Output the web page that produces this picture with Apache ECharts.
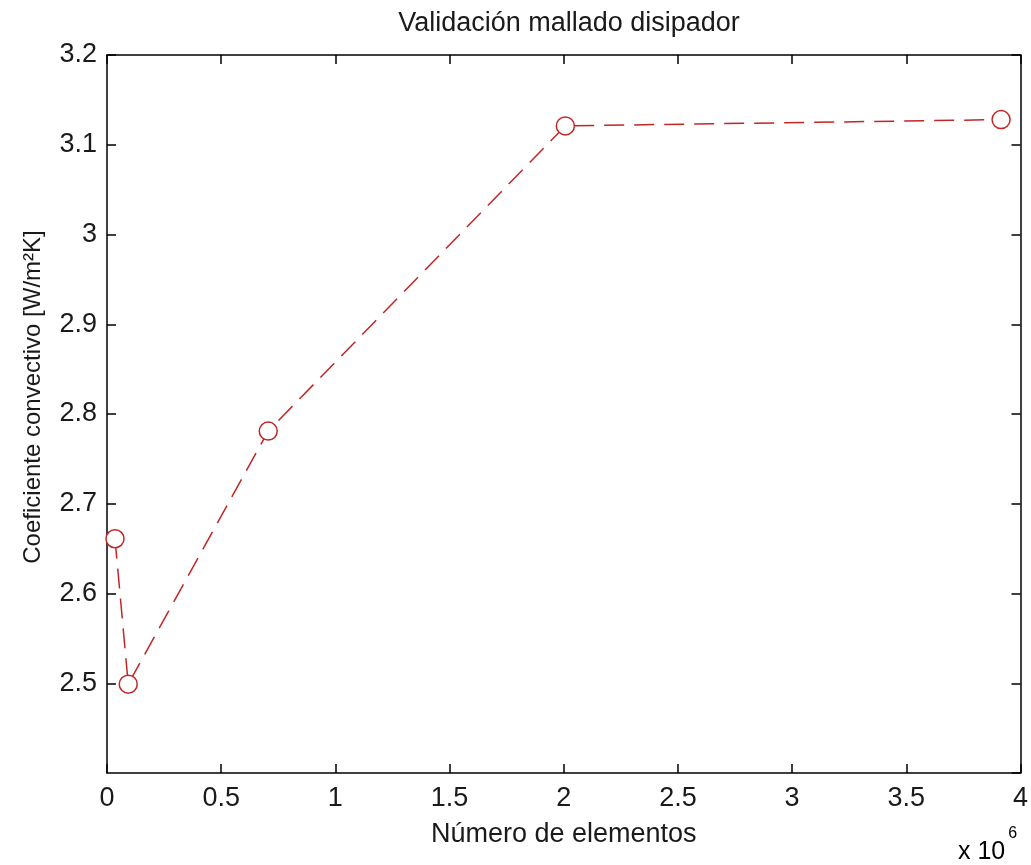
<!DOCTYPE html>
<html>
<head>
<meta charset="utf-8">
<script src="https://cdn.jsdelivr.net/npm/echarts@6/dist/echarts.min.js"></script>
<style>html,body{margin:0;padding:0;background:#fff}#c{width:1031px;height:865px}</style>
</head>
<body>
<div id="c"></div>
<script>
const titleText = 'Validación mallado disipador';
const xName = 'Número de elementos';
const yName = 'Coeficiente convectivo [W/m²K]';
const elementos = [0.035, 0.093, 0.706, 2.007, 3.915]; // x 10^6
const coeficiente = [2.661, 2.499, 2.781, 3.121, 3.128];
const xTicks = [0, 0.5, 1, 1.5, 2, 2.5, 3, 3.5, 4];
const yTicks = [2.4, 2.5, 2.6, 2.7, 2.8, 2.9, 3, 3.1, 3.2];

const FONT = 'Liberation Sans, Arial, sans-serif';
const chart = echarts.init(document.getElementById('c'), null, {renderer: 'canvas'});
const lineColor = '#c02626';
const axisCommon = {
  axisLine: {show: true, onZero: false, lineStyle: {color: '#000', width: 1.5}},
  axisTick: {show: true, inside: true, length: 9, lineStyle: {color: '#000', width: 1.5}},
  splitLine: {show: false}
};
chart.setOption({
  animation: false,
  backgroundColor: '#fff',
  title: {
    text: titleText, left: 564, top: 5, textAlign: 'center',
    textStyle: {fontFamily: FONT, fontSize: 27, fontWeight: 'normal', color: '#1a1a1a'}
  },
  grid: {left: 107, right: 10, top: 55, bottom: 92, containLabel: false},
  xAxis: [
    Object.assign({
      type: 'value', min: xTicks[0], max: xTicks[xTicks.length - 1], interval: 0.5,
      position: 'bottom',
      name: xName, nameLocation: 'middle', nameGap: 48,
      nameTextStyle: {fontFamily: FONT, fontSize: 27, color: '#1a1a1a'},
      axisLabel: {fontFamily: FONT, fontSize: 27, color: '#1a1a1a', margin: 12,
        formatter: v => String(Math.round(v * 10) / 10)}
    }, axisCommon),
    Object.assign({
      type: 'value', min: xTicks[0], max: xTicks[xTicks.length - 1], interval: 0.5,
      position: 'top', axisLabel: {show: false}
    }, axisCommon)
  ],
  yAxis: [
    Object.assign({
      type: 'value', min: yTicks[0], max: yTicks[yTicks.length - 1], interval: 0.1,
      position: 'left',
      axisLabel: {fontFamily: FONT, fontSize: 27, color: '#1a1a1a', margin: 10, showMinLabel: false,
        formatter: v => String(Math.round(v * 10) / 10)}
    }, axisCommon),
    Object.assign({
      type: 'value', min: yTicks[0], max: yTicks[yTicks.length - 1], interval: 0.1,
      position: 'right', axisLabel: {show: false}
    }, axisCommon)
  ],
  graphic: [{
    type: 'text', x: 33, y: 397, rotation: Math.PI / 2,
    style: {
      text: yName, fontFamily: FONT, fontSize: 24, fill: '#1a1a1a',
      align: 'center', verticalAlign: 'middle'
    }
  }, {
    type: 'text', left: 958, top: 826,
    style: {
      text: '{a|x 10}{s|6}',
      rich: {
        a: {fontFamily: FONT, fontSize: 25, color: '#1a1a1a', padding: [14, 0, 0, 0]},
        s: {fontFamily: FONT, fontSize: 16, color: '#1a1a1a', verticalAlign: 'top', padding: [0, 0, 0, 3]}
      }
    }
  }],
  series: [{
    type: 'line',
    xAxisIndex: 0, yAxisIndex: 0,
    data: elementos.map((x, i) => [x, coeficiente[i]]),
    symbol: 'circle', symbolSize: 18, showAllSymbol: true,
    itemStyle: {color: '#fff', borderColor: lineColor, borderWidth: 1.5},
    lineStyle: {color: lineColor, width: 1.5, type: [20, 10]},
    z: 3
  }]
});
</script>
</body>
</html>
